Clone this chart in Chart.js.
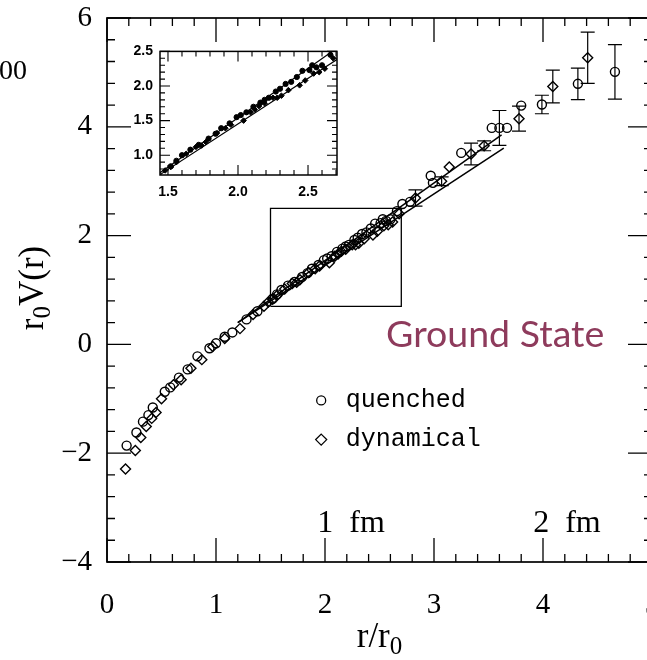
<!DOCTYPE html>
<html>
<head>
<meta charset="utf-8">
<title>Ground State potential</title>
<script src="https://cdn.jsdelivr.net/npm/chart.js"></script>
<style>
    html, body { margin: 0; padding: 0; overflow: hidden; background: #fff; }
    #wrap { position: relative; width: 647px; height: 660px; overflow: hidden; }
    #mainChart { position: absolute; left: 0; top: 0; }
    #insetChart { position: absolute; left: 110px; top: 36px; }
</style>
</head>
<body>
<div id="wrap">
    <canvas id="mainChart" width="670" height="660"></canvas>
    <canvas id="insetChart" width="240" height="172"></canvas>
</div>
<script>
// quenched data (circles): r/r0 and r0 V(r)
const quenchedR = [0.18, 0.27, 0.33, 0.38, 0.42, 0.53, 0.58, 0.66, 0.74, 0.83, 0.94, 1.00, 1.08, 1.15, 1.28, 1.38,
    1.52, 1.56, 1.60, 1.66, 1.72, 1.79, 1.84, 1.88, 1.94, 1.99, 2.02, 2.06, 2.11, 2.16, 2.19, 2.22, 2.27, 2.30, 2.34,
    2.38, 2.42, 2.46, 2.51, 2.53, 2.56, 2.60,
    2.66, 2.71, 2.78, 2.97, 2.99, 3.25, 3.53, 3.60, 3.67, 3.80, 3.99, 4.32, 4.66];
const quenchedV = [-1.86, -1.62, -1.42, -1.30, -1.16, -0.87, -0.79, -0.61, -0.46, -0.22, -0.07, 0.02, 0.14, 0.22, 0.46, 0.61,
    0.84, 0.92, 1.00, 1.08, 1.15, 1.24, 1.31, 1.39, 1.46, 1.55, 1.58, 1.62, 1.70, 1.76, 1.80, 1.83, 1.92, 1.96, 2.03,
    2.06, 2.13, 2.22, 2.23, 2.30, 2.27, 2.30,
    2.45, 2.58, 2.62, 3.10, 2.97, 3.52, 3.98, 3.98, 3.98, 4.39, 4.41, 4.79, 5.01];
// error bars on some quenched points
const quenchedErrR = [3.60, 3.99, 4.32, 4.66];
const quenchedErrSize = [0.32, 0.17, 0.29, 0.50];

// dynamical data (diamonds)
const dynamicalR = [0.17, 0.26, 0.31, 0.36, 0.41, 0.45, 0.50, 0.61, 0.68, 0.77, 0.87, 0.97, 1.08, 1.22, 1.34, 1.44,
    1.48, 1.52, 1.56, 1.63, 1.70, 1.74, 1.77, 1.85, 1.91, 1.95, 2.04, 2.09, 2.12, 2.15, 2.19, 2.25, 2.28, 2.31, 2.36,
    2.44, 2.48, 2.54, 2.58, 2.62, 2.68,
    2.83, 3.07, 3.14, 3.34, 3.46, 3.78, 4.09, 4.41];
const dynamicalV = [-2.29, -1.95, -1.71, -1.51, -1.36, -1.25, -1.00, -0.74, -0.65, -0.44, -0.28, -0.04, 0.11, 0.29, 0.55, 0.70,
    0.78, 0.83, 0.90, 1.02, 1.12, 1.14, 1.19, 1.32, 1.39, 1.44, 1.50, 1.62, 1.66, 1.71, 1.75, 1.83, 1.83, 1.86, 1.94,
    2.01, 2.08, 2.18, 2.20, 2.25, 2.40,
    2.69, 3.00, 3.26, 3.50, 3.65, 4.15, 4.74, 5.27];
const dynamicalErrR = [2.83, 3.07, 3.34, 3.46, 3.78, 4.09, 4.41];
const dynamicalErrSize = [0.15, 0.08, 0.20, 0.09, 0.23, 0.30, 0.47];

// fit lines
const fitQuenchedR = [1.2, 3.62];
const fitQuenchedV = [0.40, 3.85];
const fitDynamicalR = [1.2, 3.64];
const fitDynamicalV = [0.40, 3.61];

// zoom box drawn in the main plot
const boxR = [1.5, 2.7, 2.7, 1.5, 1.5];
const boxV = [0.7, 0.7, 2.5, 2.5, 0.7];

// tick labels
const xTicks = [0, 1, 2, 3, 4, 5];
const yTicks = [-4, -2, 0, 2, 4, 6];
const insetXTicks = [1.5, 2.0, 2.5];
const insetYTicks = [1.0, 1.5, 2.0, 2.5];

const serif = 'Liberation Serif';

function pts(xs, ys) {
    return xs.map((v, i) => ({ x: v, y: ys[i] }));
}

// frame and inward ticks on all four sides
function drawFrame(chart, o) {
    const ctx = chart.ctx, a = chart.chartArea, sx = chart.scales.x, sy = chart.scales.y;
    ctx.save();
    ctx.strokeStyle = '#000';
    ctx.lineWidth = o.lw;
    ctx.strokeRect(a.left, a.top, a.right - a.left, a.bottom - a.top);
    ctx.lineWidth = o.tw;
    ctx.beginPath();
    for (let k = Math.ceil(sx.min / o.xMinor - 1e-6); k * o.xMinor <= sx.max + 1e-6; k++) {
        const v = k * o.xMinor;
        const r = v / o.xMajor;
        const len = Math.abs(r - Math.round(r)) < 1e-6 ? o.big : o.small;
        const px = sx.getPixelForValue(v);
        ctx.moveTo(px, a.bottom); ctx.lineTo(px, a.bottom - len);
        ctx.moveTo(px, a.top); ctx.lineTo(px, a.top + len);
    }
    for (let k = Math.ceil(sy.min / o.yMinor - 1e-6); k * o.yMinor <= sy.max + 1e-6; k++) {
        const v = k * o.yMinor;
        const r = v / o.yMajor;
        const len = Math.abs(r - Math.round(r)) < 1e-6 ? o.big : o.small;
        const py = sy.getPixelForValue(v);
        ctx.moveTo(a.left, py); ctx.lineTo(a.left + len, py);
        ctx.moveTo(a.right, py); ctx.lineTo(a.right - len, py);
    }
    ctx.stroke();
    ctx.restore();
}

function drawErrors(chart, xs, ys, errR, errSize) {
    const ctx = chart.ctx, sx = chart.scales.x, sy = chart.scales.y;
    ctx.save();
    ctx.strokeStyle = '#000';
    ctx.lineWidth = 1.2;
    ctx.beginPath();
    errR.forEach((r, k) => {
        const i = xs.indexOf(r);
        if (i < 0) return;
        const px = sx.getPixelForValue(r);
        const top = sy.getPixelForValue(ys[i] + errSize[k]);
        const bot = sy.getPixelForValue(ys[i] - errSize[k]);
        ctx.moveTo(px, top); ctx.lineTo(px, bot);
        ctx.moveTo(px - 7, top); ctx.lineTo(px + 7, top);
        ctx.moveTo(px - 7, bot); ctx.lineTo(px + 7, bot);
    });
    ctx.stroke();
    ctx.restore();
}

// text made of pieces, subscripts lowered; centred on x = 0, baseline y = 0
function drawPieces(ctx, pieces) {
    let total = 0;
    pieces.forEach(p => { ctx.font = p.size + 'px "' + serif + '"'; p.w = ctx.measureText(p.t).width; total += p.w; });
    let x = -total / 2;
    ctx.textAlign = 'left';
    ctx.textBaseline = 'alphabetic';
    pieces.forEach(p => {
        ctx.font = p.size + 'px "' + serif + '"';
        ctx.fillText(p.t, x, p.dy);
        x += p.w;
    });
}

const mainDecor = {
    id: 'mainDecor',
    afterDatasetsDraw(chart) {
        drawErrors(chart, quenchedR, quenchedV, quenchedErrR, quenchedErrSize);
        drawErrors(chart, dynamicalR, dynamicalV, dynamicalErrR, dynamicalErrSize);
    },
    afterDraw(chart) {
        drawFrame(chart, { lw: 1.7, tw: 1.3, xMinor: 0.2, xMajor: 1, yMinor: 0.4, yMajor: 2, big: 24, small: 8 });
        const ctx = chart.ctx, sx = chart.scales.x, sy = chart.scales.y, a = chart.chartArea;
        ctx.save();
        ctx.fillStyle = '#000';

        // axis titles
        ctx.save();
        ctx.translate((a.left + a.right) / 2, 647);
        drawPieces(ctx, [{ t: 'r/r', size: 35, dy: 0 }, { t: '0', size: 25, dy: 7 }]);
        ctx.restore();
        ctx.save();
        ctx.translate(43, 288);
        ctx.rotate(-Math.PI / 2);
        drawPieces(ctx, [{ t: 'r', size: 35, dy: 0 }, { t: '0', size: 25, dy: 7 }, { t: 'V(r)', size: 35, dy: 0 }]);
        ctx.restore();

        ctx.textBaseline = 'middle';
        ctx.textAlign = 'left';
        ctx.font = '32px "Liberation Serif"';
        ctx.fillText('1\u2002fm', sx.getPixelForValue(1.93), sy.getPixelForValue(-3.30));
        ctx.fillText('2\u2002fm', sx.getPixelForValue(3.91), sy.getPixelForValue(-3.30));

        // cut-off label from the neighbouring figure
        ctx.textAlign = 'right';
        ctx.font = '28px "Liberation Serif"';
        ctx.fillText('00', 27, 72);

        // legend
        ctx.textAlign = 'left';
        ctx.font = '25px "Liberation Mono"';
        ctx.lineWidth = 1.3;
        ctx.strokeStyle = '#000';
        const lx = sx.getPixelForValue(1.965);
        const ly1 = sy.getPixelForValue(-1.03), ly2 = sy.getPixelForValue(-1.75);
        ctx.beginPath();
        ctx.arc(lx, ly1, 4.5, 0, Math.PI * 2);
        ctx.stroke();
        ctx.beginPath();
        ctx.moveTo(lx, ly2 - 5.5); ctx.lineTo(lx + 5.5, ly2); ctx.lineTo(lx, ly2 + 5.5); ctx.lineTo(lx - 5.5, ly2);
        ctx.closePath();
        ctx.stroke();
        ctx.fillText('quenched', sx.getPixelForValue(2.19), ly1);
        ctx.fillText('dynamical', sx.getPixelForValue(2.19), ly2);

        // slide label
        ctx.textBaseline = 'alphabetic';
        ctx.fillStyle = '#8e3b5c';
        ctx.font = '37.5px Lato';
        ctx.fillText('Ground State', sx.getPixelForValue(2.56), sy.getPixelForValue(-0.04));
        ctx.restore();
    }
};

const insetDecor = {
    id: 'insetDecor',
    afterDraw(chart) {
        drawFrame(chart, { lw: 1.5, tw: 1.1, xMinor: 0.1, xMajor: 0.5, yMinor: 0.1, yMajor: 0.5, big: 10, small: 5 });
    }
};

new Chart(document.getElementById('mainChart'), {
    type: 'scatter',
    data: {
        datasets: [
            {
                label: 'quenched',
                data: pts(quenchedR, quenchedV),
                pointStyle: 'circle',
                pointRadius: 4.5,
                pointBackgroundColor: 'rgba(255,255,255,0)',
                pointBorderColor: '#000',
                pointBorderWidth: 1.4
            },
            {
                label: 'dynamical',
                data: pts(dynamicalR, dynamicalV),
                pointStyle: 'rectRot',
                pointRadius: 5,
                pointBackgroundColor: 'rgba(255,255,255,0)',
                pointBorderColor: '#000',
                pointBorderWidth: 1.4
            },
            {
                label: 'fit quenched',
                data: pts(fitQuenchedR, fitQuenchedV),
                showLine: true, borderColor: '#000', borderWidth: 1.5, pointRadius: 0
            },
            {
                label: 'fit dynamical',
                data: pts(fitDynamicalR, fitDynamicalV),
                showLine: true, borderColor: '#000', borderWidth: 1.5, pointRadius: 0
            },
            {
                label: 'box',
                data: pts(boxR, boxV),
                showLine: true, borderColor: '#000', borderWidth: 1.3, pointRadius: 0
            }
        ]
    },
    options: {
        responsive: false,
        animation: false,
        layout: { padding: { top: 18, right: 18, left: 0, bottom: 0 } },
        plugins: { legend: { display: false }, tooltip: { enabled: false } },
        scales: {
            x: {
                type: 'linear', min: 0, max: 5,
                afterBuildTicks: s => { s.ticks = xTicks.map(v => ({ value: v })); },
                afterFit: s => { s.height = 98; s.paddingLeft = 0; s.paddingRight = 0; },
                grid: { display: false, drawTicks: false },
                border: { display: false },
                ticks: { color: '#000', font: { family: serif, size: 29 }, padding: 26, maxRotation: 0 }
            },
            y: {
                type: 'linear', min: -4, max: 6,
                afterBuildTicks: s => { s.ticks = yTicks.map(v => ({ value: v })); },
                afterFit: s => { s.width = 107; s.paddingTop = 0; s.paddingBottom = 0; },
                grid: { display: false, drawTicks: false },
                border: { display: false },
                ticks: {
                    color: '#000', font: { family: serif, size: 29 }, padding: 15,
                    callback: v => String(v).replace('-', '\u2212')
                }
            }
        }
    },
    plugins: [mainDecor]
});

const sansBold = { family: 'Liberation Sans', size: 14, weight: 'bold' };

new Chart(document.getElementById('insetChart'), {
    type: 'scatter',
    data: {
        datasets: [
            {
                label: 'quenched',
                data: pts(quenchedR, quenchedV),
                pointStyle: 'circle', pointRadius: 2.6,
                pointBackgroundColor: '#000', pointBorderColor: '#000', pointBorderWidth: 1
            },
            {
                label: 'dynamical',
                data: pts(dynamicalR, dynamicalV),
                pointStyle: 'rectRot', pointRadius: 2.8,
                pointBackgroundColor: '#000', pointBorderColor: '#000', pointBorderWidth: 1
            },
            {
                label: 'fit quenched',
                data: pts(fitQuenchedR, fitQuenchedV),
                showLine: true, borderColor: '#000', borderWidth: 1.2, pointRadius: 0
            },
            {
                label: 'fit dynamical',
                data: pts(fitDynamicalR, fitDynamicalV),
                showLine: true, borderColor: '#000', borderWidth: 1.2, pointRadius: 0
            }
        ]
    },
    options: {
        responsive: false,
        animation: false,
        layout: { padding: { top: 14, right: 13, left: 0, bottom: 0 } },
        plugins: { legend: { display: false }, tooltip: { enabled: false } },
        scales: {
            x: {
                type: 'linear', min: 1.443, max: 2.707,
                afterBuildTicks: s => { s.ticks = insetXTicks.map(v => ({ value: v })); },
                afterFit: s => { s.height = 33; },
                grid: { display: false, drawTicks: false },
                border: { display: false },
                ticks: { color: '#000', font: sansBold, padding: 9, maxRotation: 0, callback: v => v.toFixed(1) }
            },
            y: {
                type: 'linear', min: 0.714, max: 2.5,
                afterBuildTicks: s => { s.ticks = insetYTicks.map(v => ({ value: v })); },
                afterFit: s => { s.width = 50; },
                grid: { display: false, drawTicks: false },
                border: { display: false },
                ticks: { color: '#000', font: sansBold, padding: 7, callback: v => v.toFixed(1) }
            }
        }
    },
    plugins: [insetDecor]
});
</script>
</body>
</html>
